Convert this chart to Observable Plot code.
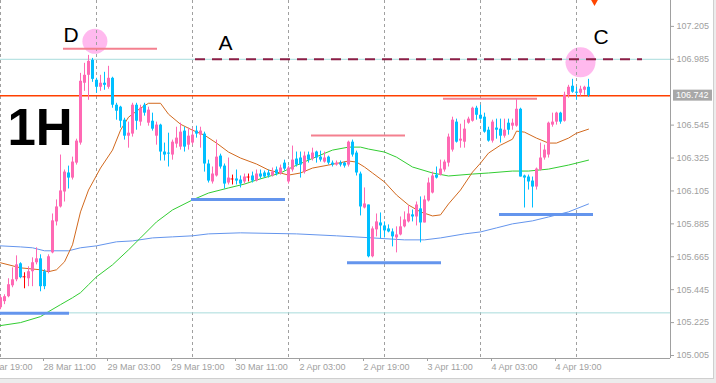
<!DOCTYPE html>
<html><head><meta charset="utf-8">
<script src="https://cdn.jsdelivr.net/npm/d3@7"></script>
<script src="https://cdn.jsdelivr.net/npm/@observablehq/plot@0.6"></script>
<style>
body{margin:0;background:#fff;}
#chart{position:relative;width:716px;height:383px;overflow:hidden;}
</style>
</head><body><div id="chart"></div>
<script>
// ---- data (1H bars) ----
const barIndex = d3.range(148);
const open = [105.325,105.365,105.398,105.471,105.511,105.618,105.531,105.518,105.565,105.625,
105.651,105.565,105.565,105.691,105.898,105.998,106.098,106.225,106.191,106.291,
106.425,106.825,106.878,106.978,106.845,106.798,106.825,106.798,106.858,106.678,
106.665,106.578,106.471,106.485,106.678,106.565,106.678,106.558,106.571,106.471,
106.545,106.365,106.358,106.345,106.418,106.398,106.505,106.411,106.425,106.505,
106.478,106.485,106.285,106.165,106.205,106.338,106.271,106.158,106.185,106.185,
106.178,106.165,106.198,106.205,106.171,106.218,106.225,106.225,106.205,106.245,
106.218,106.291,106.165,106.245,106.318,106.325,106.231,106.345,106.318,106.365,
106.331,106.298,106.331,106.291,106.278,106.291,106.291,106.278,106.431,106.358,
106.218,105.991,106.011,105.665,105.845,105.891,105.871,105.851,105.831,105.791,
105.811,105.865,105.898,105.945,105.931,105.985,105.891,106.038,106.091,106.211,
106.211,106.245,106.291,106.378,106.565,106.438,106.431,106.558,106.571,106.658,
106.611,106.598,106.511,106.438,106.525,106.518,106.471,106.558,106.538,106.538,
106.651,106.205,106.198,106.171,106.131,106.245,106.325,106.345,106.545,106.565,
106.625,106.571,106.745,106.805,106.765,106.758,106.778,106.798];
const high = [105.405,105.411,105.518,105.591,105.671,105.625,105.558,105.598,105.658,105.725,
105.678,105.578,105.678,105.951,106.045,106.345,106.245,106.271,106.331,106.451,
106.891,106.958,107.011,106.991,106.858,106.878,106.898,106.938,106.865,106.691,
106.671,106.591,106.565,106.691,106.691,106.678,106.691,106.665,106.625,106.565,
106.551,106.425,106.491,106.445,106.531,106.558,106.531,106.525,106.525,106.538,
106.531,106.498,106.311,106.265,106.445,106.351,106.285,106.325,106.211,106.245,
106.205,106.218,106.218,106.231,106.245,106.245,106.238,106.245,106.258,106.265,
106.278,106.311,106.271,106.405,106.365,106.365,106.365,106.365,106.391,106.371,
106.371,106.365,106.338,106.305,106.305,106.305,106.298,106.438,106.445,106.371,
106.231,106.125,106.011,105.865,105.951,105.958,105.898,105.878,105.851,105.865,
105.931,105.965,106.005,105.978,106.031,106.065,106.071,106.191,106.231,106.265,
106.311,106.311,106.485,106.598,106.585,106.551,106.578,106.598,106.665,106.671,
106.678,106.625,106.531,106.578,106.585,106.585,106.585,106.585,106.585,106.718,
106.658,106.211,106.211,106.198,106.258,106.425,106.411,106.565,106.625,106.631,
106.631,106.765,106.811,106.851,106.798,106.805,106.805,106.851];
const low = [105.311,105.345,105.391,105.458,105.498,105.518,105.451,105.465,105.465,105.611,
105.431,105.445,105.551,105.685,105.871,105.991,106.031,106.118,106.178,106.278,
106.411,106.771,106.711,106.831,106.758,106.771,106.778,106.785,106.658,106.578,
106.525,106.445,106.391,106.465,106.511,106.538,106.605,106.538,106.505,106.411,
106.305,106.305,106.265,106.311,106.391,106.378,106.365,106.378,106.411,106.458,
106.391,106.231,106.158,106.151,106.198,106.251,106.118,106.145,106.145,106.145,
106.125,106.151,106.165,106.158,106.165,106.185,106.191,106.191,106.198,106.205,
106.211,106.238,106.151,106.231,106.265,106.191,106.218,106.291,106.305,106.291,
106.298,106.291,106.278,106.265,106.271,106.265,106.258,106.265,106.331,106.205,
105.938,105.985,105.658,105.658,105.798,105.785,105.791,105.825,105.731,105.691,
105.805,105.858,105.891,105.898,105.871,105.758,105.891,106.031,106.085,106.185,
106.205,106.231,106.265,106.365,106.425,106.391,106.391,106.551,106.565,106.578,
106.578,106.491,106.431,106.425,106.451,106.425,106.458,106.478,106.511,106.531,
106.198,105.991,106.111,105.991,106.111,106.238,106.311,106.325,106.531,106.545,
106.551,106.565,106.725,106.758,106.711,106.738,106.745,106.731];
const close = [105.391,105.398,105.478,105.511,105.611,105.525,105.531,105.565,105.625,105.651,
105.465,105.465,105.665,105.905,105.998,106.105,106.231,106.191,106.298,106.438,
106.838,106.878,106.971,106.851,106.798,106.825,106.811,106.858,106.678,106.638,
106.571,106.471,106.491,106.678,106.571,106.658,106.625,106.645,106.518,106.545,
106.365,106.345,106.351,106.431,106.458,106.498,106.398,106.471,106.478,106.485,
106.505,106.285,106.171,106.218,106.331,106.265,106.151,106.191,106.185,106.171,
106.151,106.198,106.198,106.171,106.218,106.198,106.198,106.205,106.231,106.218,
106.258,106.251,106.258,106.311,106.278,106.278,106.338,106.311,106.358,106.325,
106.311,106.325,106.291,106.278,106.291,106.278,106.271,106.431,106.345,106.225,
105.998,106.018,105.665,105.851,105.898,105.871,105.838,105.831,105.798,105.811,
105.865,105.911,105.951,105.931,106.011,105.891,106.045,106.158,106.205,106.191,
106.251,106.298,106.465,106.578,106.431,106.451,106.518,106.585,106.658,106.611,
106.585,106.498,106.438,106.565,106.511,106.471,106.511,106.511,106.558,106.651,
106.198,106.191,106.165,106.131,106.251,106.325,106.378,106.558,106.565,106.625,
106.565,106.745,106.798,106.765,106.758,106.785,106.798,106.742];

// moving averages (sampled readings)
const maFastIdx = [0,5,10,12,14,16,18,20,22,25,28,30,32,35,37,40,42,45,48,51,54,57,60,64,67,70,72,75,78,82,87,89,91,93,96,99,102,105,108,110,112,115,118,120,122,125,128,129,131,134,137,139,142,144,147];
const maFastVal = [105.625,105.591,105.578,105.565,105.578,105.631,105.745,105.965,106.111,106.258,106.378,106.511,106.598,106.658,106.691,106.691,106.618,106.551,106.511,106.478,106.425,106.365,106.325,106.285,106.245,106.225,106.211,106.225,106.258,106.278,106.305,106.298,106.265,106.225,106.165,106.078,106.011,105.965,105.938,105.945,106.018,106.111,106.231,106.291,106.358,106.411,106.451,106.505,106.498,106.458,106.425,106.425,106.458,106.491,106.518];
const maMidIdx = [0,5,10,12,15,18,20,22,24,28,32,35,39,43,48,52,57,61,64,70,73,77,80,83,87,90,92,96,99,103,108,112,118,122,128,132,137,142,147];
const maMidVal = [105.205,105.225,105.265,105.298,105.345,105.391,105.425,105.478,105.531,105.611,105.711,105.791,105.898,105.978,106.045,106.091,106.125,106.151,106.178,106.225,106.265,106.311,106.345,106.378,106.398,106.398,106.385,106.365,106.331,106.265,106.225,106.205,106.218,106.225,106.238,106.238,106.251,106.278,106.311];
const maSlowIdx = [0,5,8,11,17,20,24,29,33,38,43,48,52,60,74,84,93,101,106,110,116,120,124,128,133,137,142,147];
const maSlowVal = [105.738,105.731,105.725,105.705,105.705,105.725,105.738,105.765,105.771,105.791,105.798,105.805,105.818,105.825,105.818,105.805,105.791,105.778,105.778,105.791,105.818,105.831,105.858,105.885,105.905,105.931,105.965,106.018];

// axis ticks
const yTicks = [107.205,106.985,106.545,106.325,106.105,105.885,105.665,105.445,105.225,105.005];
const xTickIdx = [-5,11,27,43,59,75,91,107,123,139];
const xTickLabels = ["27 Mar 19:00","28 Mar 11:00","29 Mar 03:00","29 Mar 19:00","30 Mar 11:00","2 Apr 03:00","2 Apr 19:00","3 Apr 11:00","4 Apr 03:00","4 Apr 19:00"];
const daySeparators = [0,24,48,72,96,120,144];

// drawn levels
const cyanLevels = [106.985,105.290];
const supportFrom = [0,47.75,86.75,124.75];
const supportTo = [17.25,71.25,110.25,148.25];
const supportPrice = [105.288,106.048,105.625,105.948];
const resistFrom = [15.75,77.75,110.75];
const resistTo = [39.25,101.25,134.25];
const resistPrice = [107.055,106.475,106.721];
const lineAFrom = 48.75, lineATo = 160.5, lineAPrice = 106.985;
const markIdx = [23.6,145];
const markPrice = [107.105,106.965];
const markR = [12.5,15];
const labelText = ["D","A","C"];
const labelIdx = [15.75,54.5,148.25];
const labelPrice = [107.148,107.095,107.131];
const tfText = "1H", tfIdx = 1.75, tfPrice = 106.521;
const arrowIdx = 148.5, arrowPrice = 107.368;

// ---- build ----
const bull = "#ff69b4", bear = "#00bfff", doji = "#ff0000";
const bars = barIndex.map((k,i)=>({k, o:open[i], h:high[i], l:low[i], c:close[i]}));
const col = d => d.c > d.o ? bull : d.c < d.o ? bear : doji;
const zip = (a,b)=>a.map((x,i)=>({x, y:b[i]}));
const supports = supportPrice.map((p,i)=>({p, a:supportFrom[i], b:supportTo[i]}));
const resists = resistPrice.map((p,i)=>({p, a:resistFrom[i], b:resistTo[i]}));
const marksC = markIdx.map((x,i)=>({x, y:markPrice[i], r:markR[i]}));
const labels = labelText.map((t,i)=>({t, x:labelIdx[i], y:labelPrice[i]}));
const xLab = new Map(xTickIdx.map((k,i)=>[k, xTickLabels[i]]));
const xDomain = [0, 167.5], yDomain = [104.985, 107.378];
const axisCol = "#a0a0a0";
const font = "Liberation Sans, Arial, sans-serif";

const plot = Plot.plot({
  width: 716, height: 383,
  marginLeft: 0, marginTop: 0, marginRight: 46, marginBottom: 25,
  x: {domain: xDomain},
  y: {domain: yDomain},
  r: {type: "identity"},
  color: {type: "identity"},
  style: {fontFamily: font, fontSize: "9px", background: "transparent"},
  marks: [
    Plot.dot(marksC, {x:"x", y:"y", r:"r", fill:"#ff80e0", fillOpacity:0.55}),
    Plot.ruleX(daySeparators, {stroke: axisCol, strokeDasharray: "3,3"}),
    Plot.ruleY(cyanLevels, {stroke: "#a8dcdc"}),
    Plot.line(zip(maSlowIdx, maSlowVal), {x:"x", y:"y", stroke:"#6495ed", strokeWidth:1}),
    Plot.line(zip(maMidIdx, maMidVal), {x:"x", y:"y", stroke:"#32cd32", strokeWidth:1}),
    Plot.line(zip(maFastIdx, maFastVal), {x:"x", y:"y", stroke:"#d2691e", strokeWidth:1}),
    Plot.ruleY([close[close.length-1]], {stroke: "#ff4000", strokeWidth: 1.5}),
    Plot.ruleY(supports, {y:"p", x1:"a", x2:"b", stroke:"#6495ed", strokeWidth:3}),
    Plot.ruleY(resists, {y:"p", x1:"a", x2:"b", stroke:"#f4808f", strokeWidth:2}),
    Plot.ruleX(bars, {x:"k", y1:"l", y2:"h", stroke: col, strokeWidth:1}),
    Plot.ruleX(bars.filter(d=>d.o!==d.c), {x:"k", y1:"o", y2:"c", stroke: col, strokeWidth:3}),
    Plot.ruleY(bars.filter(d=>d.o===d.c), {y:"o", x1:d=>d.k-0.375, x2:d=>d.k+0.375, stroke: doji}),
    Plot.ruleY([lineAPrice], {x1: lineAFrom, x2: lineATo, stroke:"#8c1e46", strokeWidth:2, strokeDasharray:"10,7"}),
    Plot.dot([{x:arrowIdx, y:arrowPrice}], {x:"x", y:"y", symbol:"triangle", r:2.5, fill:"#ff4500", rotate:180}),
    Plot.text(labels, {x:"x", y:"y", text:"t", textAnchor:"start", fontSize:21, fill:"#000"}),
    Plot.text([{t:tfText, x:tfIdx, y:tfPrice}], {x:"x", y:"y", text:"t", textAnchor:"start", fontSize:51, fontWeight:"bold", fill:"#000"}),
    Plot.ruleX([xDomain[1]], {stroke: axisCol}),
    Plot.ruleY([yDomain[0]], {stroke: axisCol}),
    Plot.axisY(yTicks, {anchor:"right", tickSize:3, tickPadding:3, tickFormat: d3.format(".3f"), color: axisCol, fontSize: 9}),
    Plot.axisX(xTickIdx, {anchor:"bottom", tickSize:3, tickPadding:2, tickFormat: d=>xLab.get(d), textAnchor:"start", dx:-1, color: axisCol, fontSize: 9})
  ]
});

// price tag + window border decorations
const svg = d3.select(plot);
const ys = plot.scale("y"), xs = plot.scale("x");
const yb = ys.apply(close[close.length-1]);
const xr = xs.apply(xDomain[1]);
svg.append("rect").attr("x", xr+3).attr("y", yb-5.5).attr("width", 39).attr("height", 11).attr("fill", "#a8a8a8");
svg.append("text").attr("x", xr+6).attr("y", yb+3.2).attr("text-anchor", "start").attr("fill", "#fff").attr("font-size", 9).attr("font-family", font).text(d3.format(".3f")(close[close.length-1]));
svg.append("rect").attr("x", 714).attr("y", 0).attr("width", 2).attr("height", 383).attr("fill", "#ececec");
svg.append("rect").attr("x", 0).attr("y", 379).attr("width", 716).attr("height", 4).attr("fill", "#ececec");
svg.append("line").attr("x1", 713.5).attr("x2", 713.5).attr("y1", 0).attr("y2", 379).attr("stroke", "#cfcfcf");
svg.append("line").attr("x1", 0).attr("x2", 714).attr("y1", 378.5).attr("y2", 378.5).attr("stroke", "#cfcfcf");

document.getElementById("chart").appendChild(plot);
</script>
</body></html>
